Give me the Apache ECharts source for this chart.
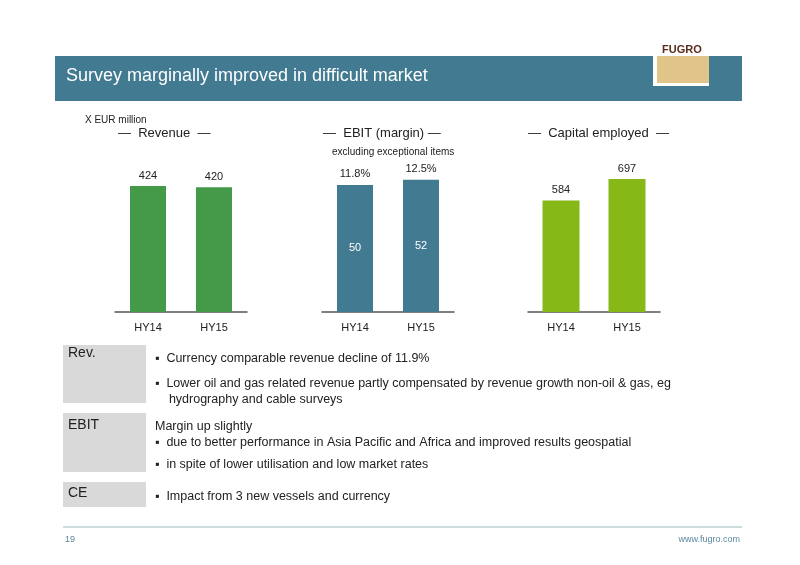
<!DOCTYPE html><html><head><meta charset="utf-8"><script src="https://cdn.jsdelivr.net/npm/echarts@6/dist/echarts.min.js"></script>
<style>body{margin:0}#c{width:800px;height:565px}</style></head><body><div id="c"></div><script>
const categories=['HY14','HY15'];
const revenue=[424,420];
const ebit=[50,52];
const ebitMargin=['11.8%','12.5%'];
const capital=[584,697];
const F='Liberation Sans, Arial, sans-serif';
const ch=echarts.init(document.getElementById('c'));
function grid(l){return {left:l,width:132,top:162,height:150};}
function xa(i){return {gridIndex:i,type:'category',data:categories,axisTick:{show:false},axisLine:{lineStyle:{color:'#555',width:1.5}},axisLabel:{color:'#222',fontSize:11,fontFamily:F,margin:10}};}
function ya(i,m){return {gridIndex:i,type:'value',min:0,max:m,show:false,splitLine:{show:false}};}
const txt=(x,y,t,s,o)=>Object.assign({type:'text',left:x,top:y,style:Object.assign({text:t,font:s+'px '+F,fill:'#222'},o||{})});
const bullets=[
 [352,'▪  Currency comparable revenue decline of 11.9%'],
 [377,'▪  Lower oil and gas related revenue partly compensated by revenue growth non-oil & gas, eg'],
 [393,'    hydrography and cable surveys'],
 [420,'Margin up slightly'],
 [436,'▪  due to better performance in Asia Pacific and Africa and improved results geospatial'],
 [458,'▪  in spite of lower utilisation and low market rates'],
 [490,'▪  Impact from 3 new vessels and currency']];
ch.setOption({
 animation:false,
 grid:[grid(115),grid(322),grid(528)],
 xAxis:[xa(0),xa(1),xa(2)],
 yAxis:[ya(0,505),ya(1,59),ya(2,786)],
 series:[
  {type:'bar',xAxisIndex:0,yAxisIndex:0,data:revenue,barWidth:36,itemStyle:{color:'#459a4a'},label:{show:true,position:'top',color:'#222',fontSize:11,fontFamily:F}},
  {type:'bar',xAxisIndex:1,yAxisIndex:1,data:ebit,barWidth:36,itemStyle:{color:'#417a91'},label:{show:true,position:'inside',color:'#fff',fontSize:11,fontFamily:F}},
  {type:'bar',xAxisIndex:1,yAxisIndex:1,data:ebit,barWidth:36,barGap:'-100%',itemStyle:{color:'transparent'},label:{show:true,position:'top',color:'#222',fontSize:11,fontFamily:F,formatter:p=>ebitMargin[p.dataIndex]}},
  {type:'bar',xAxisIndex:2,yAxisIndex:2,data:capital,barWidth:37,itemStyle:{color:'#86b817'},label:{show:true,position:'top',color:'#222',fontSize:11,fontFamily:F}}
 ],
 graphic:[
  {type:'rect',shape:{x:55,y:56,width:687,height:45},style:{fill:'#417a91'}},
  txt(66,67,'Survey marginally improved in difficult market',18,{fill:'#fff'}),
  {type:'rect',shape:{x:653,y:40,width:56,height:46},style:{fill:'#fff'}},
  {type:'rect',shape:{x:657,y:56,width:52,height:27},style:{fill:'#e0c48a'}},
  txt(662,44,'FUGRO',11,{fill:'#5a2a1a',font:'bold 11px '+F}),
  txt(85,115,'X EUR million',10),
  txt(118,127,'—  Revenue  —',13),
  txt(323,127,'—  EBIT (margin) —',13),
  txt(332,147,'excluding exceptional items',10),
  txt(528,127,'—  Capital employed  —',13),
  {type:'rect',shape:{x:63,y:345,width:83,height:58},style:{fill:'#d9d9d9'}},
  {type:'rect',shape:{x:63,y:413,width:83,height:59},style:{fill:'#d9d9d9'}},
  {type:'rect',shape:{x:63,y:482,width:83,height:25},style:{fill:'#d9d9d9'}},
  txt(68,346,'Rev.',14),txt(68,418,'EBIT',14),txt(68,486,'CE',14),
  ...bullets.map(b=>txt(155,b[0],b[1],12.5)),
  {type:'line',shape:{x1:63,y1:527,x2:742,y2:527},style:{stroke:'#9bb',lineWidth:1}},
  txt(65,535,'19',9,{fill:'#5a8aa0'}),
  {type:'text',right:60,top:535,style:{text:'www.fugro.com',font:'9px '+F,fill:'#5a8aa0'}}
 ]
});
</script></body></html>
